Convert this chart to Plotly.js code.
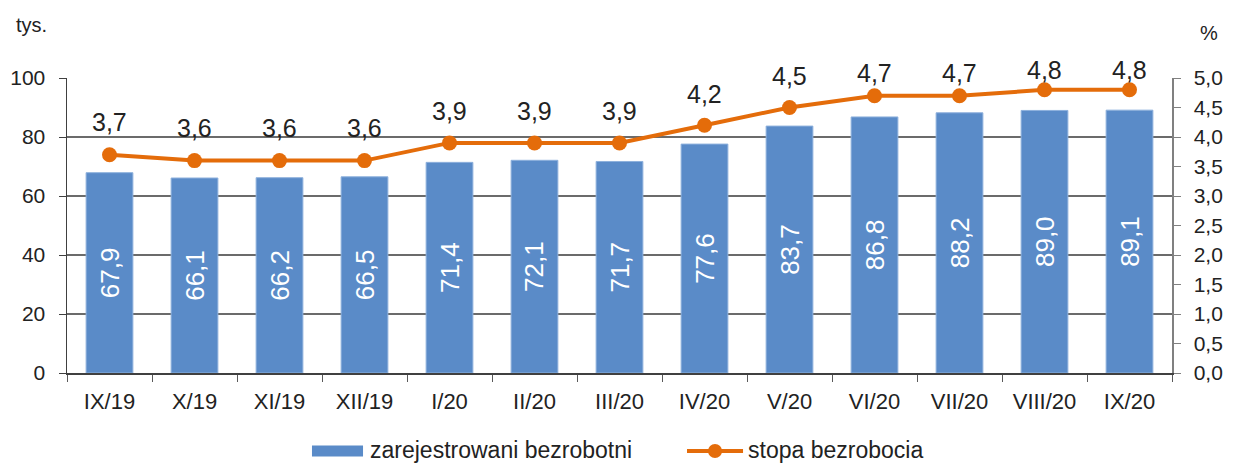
<!DOCTYPE html>
<html>
<head>
<meta charset="utf-8">
<script src="https://cdn.plot.ly/plotly-3.0.1.min.js"></script>
<style>
  body { margin: 0; background: #fff; }
  #chart { width: 1234px; height: 465px; }
</style>
</head>
<body>
<div id="chart"></div>
<script>
// months on the x axis
const months = ['IX/19', 'X/19', 'XI/19', 'XII/19', 'I/20', 'II/20', 'III/20', 'IV/20', 'V/20', 'VI/20', 'VII/20', 'VIII/20', 'IX/20'];
// registered unemployed, thousands (left axis)
const unemployed = [67.9, 66.1, 66.2, 66.5, 71.4, 72.1, 71.7, 77.6, 83.7, 86.8, 88.2, 89.0, 89.1];
// unemployment rate, % (right axis)
const rate = [3.7, 3.6, 3.6, 3.6, 3.9, 3.9, 3.9, 4.2, 4.5, 4.7, 4.7, 4.8, 4.8];
// series names for the legend
const seriesNames = ['zarejestrowani bezrobotni', 'stopa bezrobocia'];

// how far above the marker each rate label sits (pixels)
const rateLabelShift = [33, 33, 33, 33, 32, 32, 32, 31, 32, 23, 23, 20, 20];

// polish number format with decimal comma
const fmt = (v) => v.toFixed(1).replace('.', ',');

const fontFamily = '"Liberation Sans", Arial, sans-serif';
const barColor = '#5A8BC8';
const lineColor = '#E46C0A';
const textColor = '#222222';

const barTrace = {
  x: months,
  y: unemployed,
  type: 'bar',
  name: seriesNames[0],
  marker: { color: barColor, line: { color: '#8DB0DC', width: 1 } },
  text: unemployed.map(fmt),
  textposition: 'inside',
  insidetextanchor: 'middle',
  textangle: -90,
  textfont: { family: fontFamily, size: 26, color: '#ffffff' },
  hoverinfo: 'none'
};

const lineTrace = {
  x: months,
  y: rate,
  yaxis: 'y2',
  type: 'scatter',
  mode: 'lines+markers',
  name: seriesNames[1],
  line: { color: lineColor, width: 4 },
  marker: { color: lineColor, size: 15 },
  hoverinfo: 'none'
};

// labels above the line points
const annotations = rate.map((v, i) => ({
  x: months[i],
  y: v,
  xref: 'x',
  yref: 'y2',
  text: fmt(v),
  showarrow: false,
  yshift: rateLabelShift[i],
  font: { family: fontFamily, size: 25, color: textColor }
}));

// axis unit labels
annotations.push({
  xref: 'paper', yref: 'paper', x: -0.048, y: 1.18, xanchor: 'left', yanchor: 'middle',
  text: 'tys.', showarrow: false,
  font: { family: fontFamily, size: 20, color: textColor }
});
annotations.push({
  xref: 'paper', yref: 'paper', x: 1.0235, y: 1.153, xanchor: 'left', yanchor: 'middle',
  text: '%', showarrow: false,
  font: { family: fontFamily, size: 20, color: textColor }
});

// hand-drawn legend (wider swatches than plotly's own legend)
const legendTextY = -0.261;
const legendMarkY = -0.2644;
annotations.push({
  xref: 'paper', yref: 'paper', x: 0.2733, y: legendTextY, xanchor: 'left', yanchor: 'middle',
  text: seriesNames[0], showarrow: false, borderpad: 0,
  font: { family: fontFamily, size: 23, color: textColor }
});
annotations.push({
  xref: 'paper', yref: 'paper', x: 0.6154, y: legendTextY, xanchor: 'left', yanchor: 'middle',
  text: seriesNames[1], showarrow: false, borderpad: 0,
  font: { family: fontFamily, size: 23, color: textColor }
});

const shapes = [
  // bar swatch
  { type: 'rect', xref: 'paper', yref: 'paper', x0: 0.2217, x1: 0.2679, y0: -0.2831, y1: -0.2458,
    fillcolor: barColor, line: { width: 0 } },
  // line swatch
  { type: 'line', xref: 'paper', yref: 'paper', x0: 0.5611, x1: 0.6118, y0: legendMarkY, y1: legendMarkY,
    line: { color: lineColor, width: 4 } },
  { type: 'circle', xref: 'paper', yref: 'paper', x0: 0.5801, x1: 0.5928, y0: -0.2881, y1: -0.2407,
    fillcolor: lineColor, line: { width: 0 } }
];

const layout = {
  width: 1234,
  height: 465,
  margin: { l: 67, r: 62, t: 78, b: 92 },
  paper_bgcolor: '#ffffff',
  plot_bgcolor: '#ffffff',
  separators: ', ',
  bargap: 0.45,
  showlegend: false,
  font: { family: fontFamily, color: textColor },
  xaxis: {
    type: 'category',
    tickson: 'boundaries',
    ticks: 'outside',
    ticklen: 7,
    tickcolor: '#595959',
    ticklabelstandoff: 8,
    showline: true,
    linecolor: '#404040',
    linewidth: 1.5,
    showgrid: false,
    automargin: false,
    tickfont: { size: 22, color: textColor },
    range: [-0.5, 12.5]
  },
  yaxis: {
    range: [0, 100],
    dtick: 20,
    ticks: 'outside',
    ticklen: 7,
    tickcolor: '#404040',
    ticklabelstandoff: 9,
    showline: true,
    linecolor: '#404040',
    linewidth: 1.5,
    gridcolor: '#6B6B6B',
    gridwidth: 1.2,
    zeroline: false,
    automargin: false,
    tickfont: { size: 21, color: textColor }
  },
  yaxis2: {
    overlaying: 'y',
    side: 'right',
    range: [0, 5],
    dtick: 0.5,
    tickformat: '.1f',
    ticks: 'outside',
    ticklen: 7,
    tickcolor: '#808080',
    ticklabelstandoff: 9,
    showline: true,
    linecolor: '#808080',
    linewidth: 1.5,
    showgrid: false,
    zeroline: false,
    automargin: false,
    tickfont: { size: 21, color: textColor }
  },
  annotations: annotations,
  shapes: shapes
};

Plotly.newPlot('chart', [barTrace, lineTrace], layout, { staticPlot: true });
</script>
</body>
</html>
